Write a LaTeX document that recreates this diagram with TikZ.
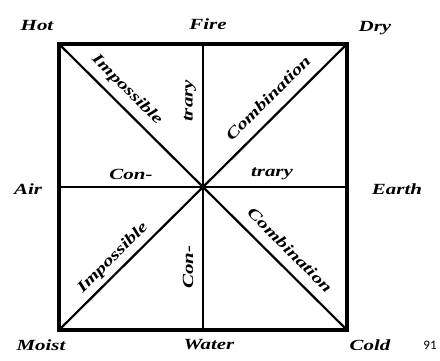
\documentclass[tikz,border=0pt]{standalone}
\usepackage{fontspec}
\newfontfamily\labfont[FakeStretch=1.35]{Liberation Serif}
\newfontfamily\numfont{Carlito}
\begin{document}
\begin{tikzpicture}[x=1pt,y=-1pt,
  lab/.style={font=\labfont\bfseries\itshape\fontsize{15.5}{15.5}\selectfont, inner sep=0pt},
  edge/.style={line width=3.2pt},
  inner/.style={line width=2.6pt},
  diag/.style={line width=2.2pt}]
\useasboundingbox (0,0) rectangle (440,361);
\coordinate (HOT) at (59,44);
\coordinate (DRY) at (347,44);
\coordinate (COLD) at (347,330);
\coordinate (MOIST) at (59,330);
\coordinate (FIRE) at (203,44);
\coordinate (WATER) at (203,330);
\coordinate (AIR) at (59,187);
\coordinate (EARTH) at (347,187);
\coordinate (C) at (203,187);
\draw[inner] (FIRE) -- (WATER);
\draw[inner] (AIR) -- (EARTH);
\draw[diag] (HOT) -- (COLD);
\draw[diag] (DRY) -- (MOIST);
\draw[edge, line join=miter] (HOT) -- (DRY) -- (COLD) -- (MOIST) -- cycle;
\fill (C) circle (3.5);
% outer labels
\node[lab] (lhot) at (37,26) {Hot};
\node[lab] (lfire) at (208,24) {Fire};
\node[lab] (ldry) at (375,28) {Dry};
\node[lab] (lair) at (28,189) {Air};
\node[lab] (learth) at (397,189) {Earth};
\node[lab] (lmoist) at (41,345) {Moist};
\node[lab] (lwater) at (209,345) {Water};
\node[lab] (lcold) at (370,345) {Cold};
\node[font=\numfont\fontsize{13}{13}\selectfont, inner sep=0pt] (num) at (430,345) {91};
% inner labels
\node[lab, rotate=-45] (imp1) at (127,90) {Impossible};
\node[lab, rotate=45] (imp2) at (113,258) {Impossible};
\node[lab, rotate=45] (comb1) at (268,98) {Combination};
\node[lab, rotate=-45] (comb2) at (290,250) {Combination};
\node[lab, rotate=90] (trary1) at (190,101) {trary};
\node[lab, rotate=90] (con1) at (188,267) {Con-};
\node[lab] (con2) at (131,174) {Con-};
\node[lab] (trary2) at (272,174) {trary};
\end{tikzpicture}
\end{document}
